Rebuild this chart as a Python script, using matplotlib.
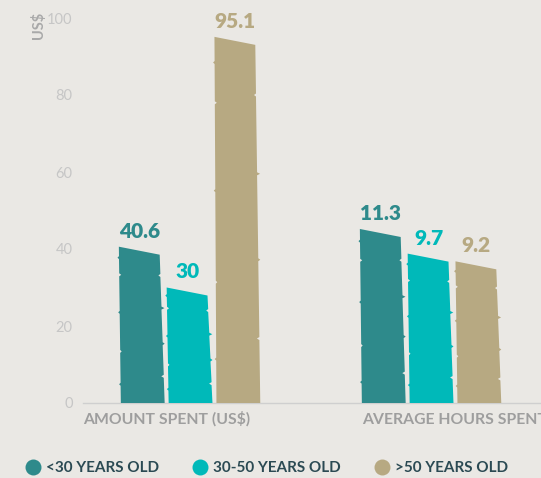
import numpy as np
import matplotlib.pyplot as plt
from matplotlib.lines import Line2D

plt.rcParams['font.family'] = ['Lato', 'DejaVu Sans']

groups = ['AMOUNT SPENT (US$)', 'AVERAGE HOURS SPENT']
ages = ['<30 YEARS OLD', '30-50 YEARS OLD', '>50 YEARS OLD']
amount_spent = [40.6, 30, 95.1]
hours_spent = [11.3, 9.7, 9.2]
y_ticks = [0, 20, 40, 60, 80, 100]

colors = ['#2e8a8b', '#00b9b9', '#b7a982']
bg = '#eae8e4'

W, H = 541, 478
fig = plt.figure(figsize=(W / 100, H / 100), dpi=100, facecolor=bg)
ax = fig.add_axes([83 / W, 75 / H, 496 / W, 385 / H])
ax.set_facecolor(bg)
ax.set_xlim(-0.438, 1.62)
ax.set_ylim(0, 100)

# hours are drawn on their own hidden scale
ax2 = ax.twinx()
ax2.set_ylim(0, 25)
ax2.axis('off')

PX_X = 242.0           # pixels per category unit
STEP = 48 / PX_X       # distance between bars in a group

# small fixed notches (height fraction, sideways pixels) for a torn look
notch_left = [(0.12, -1.5), (0.33, 1.5), (0.58, -1.5), (0.82, 2.0), (0.93, -1.5)]
notch_right = [(0.18, -2.5), (0.40, 2.0), (0.64, 3.0), (0.86, -2.0)]


def rough_bar(axis, c, value, color):
    py = 385.0 / axis.get_ylim()[1]
    dx = 1 / PX_X
    dy = 1.5 / py
    drop = 8 / py
    tl, tr = c - 22 * dx, c + 19 * dx
    bl, br = c - 20 * dx, c + 24 * dx
    rtop = value - drop
    xs, ys = [bl], [0]
    for f, o in notch_left:
        ex = bl + (tl - bl) * f
        xs += [ex, ex + o * dx, ex]
        ys += [value * f - dy, value * f, value * f + dy]
    xs += [tl, tr]
    ys += [value, rtop]
    for f, o in reversed(notch_right):
        ex = br + (tr - br) * f
        xs += [ex, ex + o * dx, ex]
        ys += [rtop * f + dy, rtop * f, rtop * f - dy]
    xs.append(br)
    ys.append(0)
    axis.fill(xs, ys, color=color, lw=0, zorder=3)


for g, (axis, vals) in enumerate([(ax, amount_spent), (ax2, hours_spent)]):
    for i, v in enumerate(vals):
        c = g + (i - 1) * STEP
        rough_bar(axis, c, v, colors[i])
        axis.annotate(f'{v:g}', (c - 1 / PX_X, v), xytext=(0, 6.5),
                      textcoords='offset points', ha='center', va='baseline',
                      fontsize=15, fontweight='heavy', color=colors[i],
                      annotation_clip=False, zorder=4)
    ax.text(-0.438 if g == 0 else 0.719, -21 / 385, groups[g],
            transform=ax.get_xaxis_transform(), ha='left', va='baseline',
            fontsize=11.3, color='#9e9e9e', fontweight='bold')

for s in ['top', 'right', 'left']:
    ax.spines[s].set_visible(False)
ax.spines['bottom'].set_color('#cfcfcf')
ax.spines['bottom'].set_linewidth(1)
ax.set_xticks([])
ax.set_yticks(y_ticks)
ax.tick_params(axis='y', length=0, pad=7.5, labelsize=10.5, labelcolor='#c6c6c6')

fig.text(38 / W, 1 - 25 / H, 'US$', rotation=90, ha='center', va='center',
         fontsize=10.5, fontweight='bold', color='#a9a9a9')

handles = [Line2D([], [], ls='none', marker='o', markersize=11.5,
                  markerfacecolor=c, markeredgewidth=0) for c in colors]
fig.legend(handles, ages, loc='center left', bbox_to_anchor=(10 / W, 10 / H),
           ncol=3, frameon=False, handletextpad=0.25, columnspacing=2.1,
           handlelength=1.2, prop={'size': 11, 'weight': 'bold'},
           labelcolor='#2b4a53')

fig.savefig('out.png', dpi=100, facecolor=bg)
